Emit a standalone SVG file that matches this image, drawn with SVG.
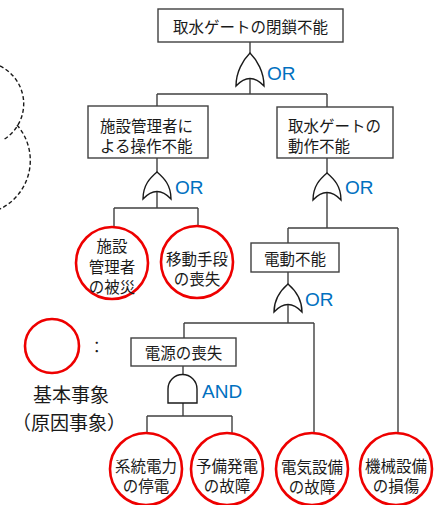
<svg xmlns="http://www.w3.org/2000/svg" width="443" height="505" viewBox="0 0 443 505">
<defs>
<style>
.box{fill:#fff;stroke:#404040;stroke-width:1.4}
.ln{fill:none;stroke:#404040;stroke-width:1.4}
.gate{fill:#fff;stroke:#1a1a1a;stroke-width:1.4}
.ev{fill:#fff;stroke:#ee0000;stroke-width:2.6}
.t{font-family:"Noto Sans CJK JP","Noto Sans CJK SC",sans-serif;font-size:15.5px;fill:#1a1a1a;dominant-baseline:central}
.c{text-anchor:middle}
.g{font-family:"Liberation Sans",Arial,sans-serif;font-size:19px;fill:#0070c0;dominant-baseline:central}
.lg{font-family:"Noto Sans CJK JP","Noto Sans CJK SC",sans-serif;font-size:19px;fill:#1a1a1a;dominant-baseline:central;text-anchor:middle}
.dash{fill:none;stroke:#1a1a1a;stroke-width:1.4;stroke-dasharray:4 2.5}
</style>
</defs>
<rect width="443" height="505" fill="#fff"/>

<g id="cloud">
<path class="dash" d="M 0 66 A 42 42 0 0 1 3 140"/>
<path class="dash" d="M 17 125 A 54 54 0 0 1 0 209"/>
</g>

<g id="connectors">
<path class="ln" d="M 250 42 V 94 M 157 94 H 327 M 157 94 V 106 M 327 94 V 107"/>
<path class="ln" d="M 157 158 V 208 M 114 208 H 198 M 114 208 V 228 M 198 208 V 226"/>
<path class="ln" d="M 327 158 V 228 M 288 228 H 398 M 288 228 V 243 M 398 228 V 433"/>
<path class="ln" d="M 288 272 V 323 M 184 323 H 314 M 184 323 V 338 M 314 323 V 433"/>
<path class="ln" d="M 183 366 V 416 M 147 416 H 232 M 147 416 V 433 M 232 416 V 433"/>
</g>

<g id="top">
<rect class="box" x="158" y="9" width="185" height="33"/>
<text class="t c" x="250.5" y="26">取水ゲートの閉鎖不能</text>
</g>
<g id="gate-or1">
<path class="gate" d="M 236 86 C 236 72 243 60 250 53 C 257 60 264 72 264 86 Q 250 71 236 86 Z"/>
<text class="g" x="267" y="73">OR</text>
</g>

<g id="manager">
<rect class="box" x="88" y="106" width="120" height="52"/>
<text class="t" x="100" y="125">施設管理者に</text>
<text class="t" x="100" y="145">よる操作不能</text>
</g>
<g id="gatework">
<rect class="box" x="277" y="107" width="116" height="51"/>
<text class="t" x="288" y="125">取水ゲートの</text>
<text class="t" x="288" y="145">動作不能</text>
</g>

<g id="gate-or2">
<path class="gate" d="M 143 199 C 143 185 150 178 157 172 C 164 178 171 185 171 199 Q 157 184 143 199 Z"/>
<text class="g" x="175" y="187">OR</text>
</g>
<g id="gate-or3">
<path class="gate" d="M 313 200 C 313 186 320 179 327 173 C 334 179 341 186 341 200 Q 327 185 313 200 Z"/>
<text class="g" x="345" y="187">OR</text>
</g>

<g id="ev-disaster">
<circle class="ev" cx="112" cy="263" r="36"/>
<text class="t c" x="112" y="245">施設</text>
<text class="t c" x="112" y="266">管理者</text>
<text class="t c" x="112" y="286">の被災</text>
</g>
<g id="ev-transport">
<circle class="ev" cx="197" cy="262" r="36"/>
<text class="t c" x="197" y="258">移動手段</text>
<text class="t c" x="197" y="278">の喪失</text>
</g>

<g id="electric">
<rect class="box" x="251" y="243" width="88" height="29"/>
<text class="t c" x="295" y="258">電動不能</text>
</g>
<g id="gate-or4">
<path class="gate" d="M 274 312 C 274 298 281 290 288 284 C 295 290 302 298 302 312 Q 288 297 274 312 Z"/>
<text class="g" x="305" y="299">OR</text>
</g>

<g id="power">
<rect class="box" x="131" y="338" width="105" height="28"/>
<text class="t c" x="183.5" y="352">電源の喪失</text>
</g>
<g id="gate-and">
<path class="gate" d="M 168 403 V 389 A 14.5 14.5 0 0 1 197 389 V 403 Z"/>
<text class="g" x="202" y="391">AND</text>
</g>

<g id="ev-grid">
<circle class="ev" cx="146" cy="469" r="36"/>
<text class="t c" x="146" y="465">系統電力</text>
<text class="t c" x="146" y="485">の停電</text>
</g>
<g id="ev-backup">
<circle class="ev" cx="227" cy="469" r="36"/>
<text class="t c" x="227" y="465">予備発電</text>
<text class="t c" x="227" y="485">の故障</text>
</g>
<g id="ev-elec">
<circle class="ev" cx="312" cy="469" r="36"/>
<text class="t c" x="312" y="466">電気設備</text>
<text class="t c" x="312" y="486">の故障</text>
</g>
<g id="ev-mech">
<circle class="ev" cx="396" cy="469" r="36"/>
<text class="t c" x="396" y="465">機械設備</text>
<text class="t c" x="396" y="485">の損傷</text>
</g>

<g id="legend">
<circle class="ev" cx="52" cy="346" r="27"/>
<text class="t" x="89" y="346">：</text>
<text class="lg" x="71" y="393">基本事象</text>
<text class="lg" x="69" y="421">（原因事象）</text>
</g>
</svg>
